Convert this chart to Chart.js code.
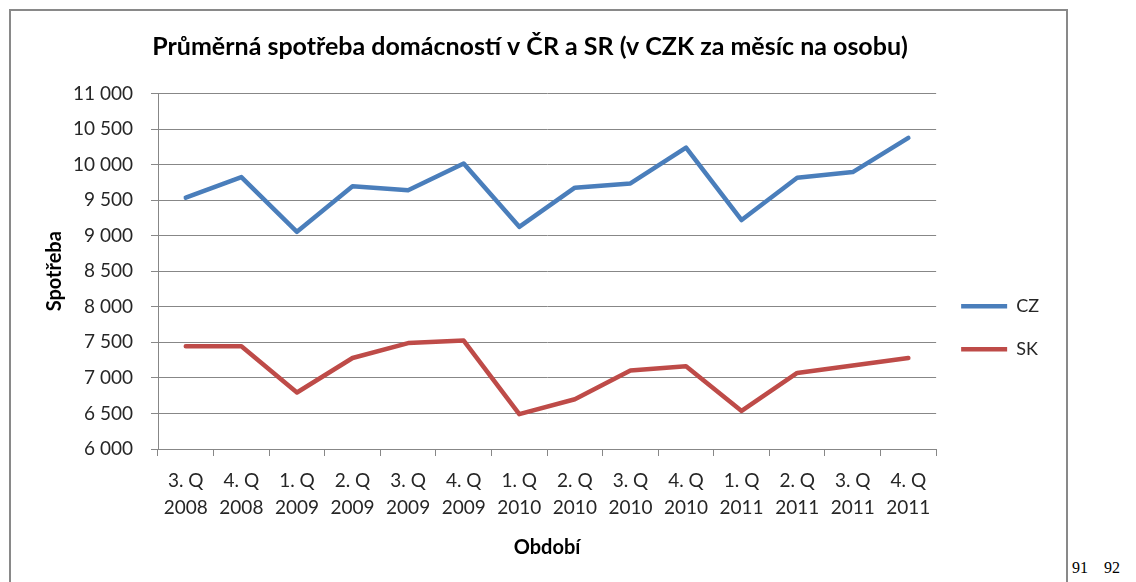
<!DOCTYPE html>
<html>
<head>
<meta charset="utf-8">
<script src="https://cdn.jsdelivr.net/npm/chart.js@4"></script>
<style>
  body { margin: 0; background: #fff; width: 1136px; height: 582px; overflow: hidden; position: relative; }
  #frame { position: absolute; left: 9px; top: 9px; width: 1055px; height: 600px;
           border: 2px solid #898989; border-bottom: none; }
  #pages { position: absolute; left: 1072px; top: 559px; font: 16px "Liberation Serif", serif; color: #000; }
</style>
</head>
<body>
<div id="frame"><canvas id="chart" width="1055" height="571"></canvas></div>
<div id="pages">91&nbsp;&nbsp;&nbsp;&nbsp;92</div>
<script>
// Quarters and years shown on the x axis
const quarters = ["3. Q", "4. Q", "1. Q", "2. Q", "3. Q", "4. Q", "1. Q", "2. Q", "3. Q", "4. Q", "1. Q", "2. Q", "3. Q", "4. Q"];
const years = ["2008", "2008", "2009", "2009", "2009", "2009", "2010", "2010", "2010", "2010", "2011", "2011", "2011", "2011"];

// Average monthly household consumption per person (CZK)
const czValues = [9535, 9825, 9055, 9695, 9640, 10015, 9125, 9675, 9735, 10240, 9220, 9815, 9895, 10375];
const skValues = [7445, 7445, 6795, 7280, 7490, 7525, 6490, 6700, 7105, 7165, 6535, 7070, 7175, 7280];

const fontFamily = "Lato, 'Open Sans', sans-serif";
const textColor = "#262626";
const gridColor = "#878787";

// 11000 -> "11 000"
function formatThousands(value) {
  return String(value).replace(/\B(?=(\d{3})+(?!\d))/g, "\u00a0");
}

const labels = quarters.map((q, i) => [q, years[i]]);

new Chart(document.getElementById("chart").getContext("2d"), {
  type: "line",
  data: {
    labels: labels,
    datasets: [
      {
        label: "CZ",
        data: czValues,
        borderColor: "#4A7EBB",
        backgroundColor: "#4A7EBB",
        borderWidth: 4.5,
        pointRadius: 0,
        borderCapStyle: "round",
        borderJoinStyle: "round",
      },
      {
        label: "SK",
        data: skValues,
        borderColor: "#BE4B48",
        backgroundColor: "#BE4B48",
        borderWidth: 4.5,
        pointRadius: 0,
        borderCapStyle: "round",
        borderJoinStyle: "round",
      },
    ],
  },
  options: {
    responsive: false,
    animation: false,
    layout: { padding: { left: 0, right: 17, top: 0, bottom: 0 } },
    plugins: {
      tooltip: { enabled: false },
      title: {
        display: true,
        text: "Průměrná spotřeba domácností v ČR a SR (v CZK za měsíc na osobu)",
        color: "#000",
        font: { family: fontFamily, size: 25, weight: "bold" },
        padding: { top: 21, bottom: 31.5 },
      },
      legend: {
        position: "right",
        align: "start",
        title: { display: true, text: " ", font: { size: 1 }, padding: { top: 0, bottom: 260 } },
        labels: {
          usePointStyle: true,
          pointStyle: "line",
          pointStyleWidth: 46,
          padding: 25,
          color: textColor,
          font: { family: fontFamily, size: 18 },
        },
      },
    },
    scales: {
      x: {
        offset: true,
        grid: { display: true, drawOnChartArea: false, offset: true, tickLength: 7, color: gridColor },
        border: { color: gridColor },
        ticks: { color: textColor, font: { family: fontFamily, size: 19, lineHeight: 1.42 }, padding: 11.5, maxRotation: 0, autoSkip: false },
        title: {
          display: true,
          text: "Období",
          color: "#000",
          font: { family: fontFamily, size: 20, weight: "bold" },
          padding: { top: 0, bottom: 22 },
        },
        afterFit: (scale) => { scale.height = 133; },
      },
      y: {
        min: 6000,
        max: 11000,
        grid: { color: gridColor, tickLength: 7 },
        border: { color: gridColor },
        ticks: {
          stepSize: 500,
          color: textColor,
          padding: 18,
          font: { family: fontFamily, size: 19 },
          callback: (value) => formatThousands(value),
        },
        title: {
          display: true,
          text: "Spotřeba",
          color: "#000",
          font: { family: fontFamily, size: 20, weight: "bold" },
          padding: { top: 32, bottom: 0 },
        },
        afterFit: (scale) => { scale.width = 147; },
      },
    },
  },
});
</script>
</body>
</html>
